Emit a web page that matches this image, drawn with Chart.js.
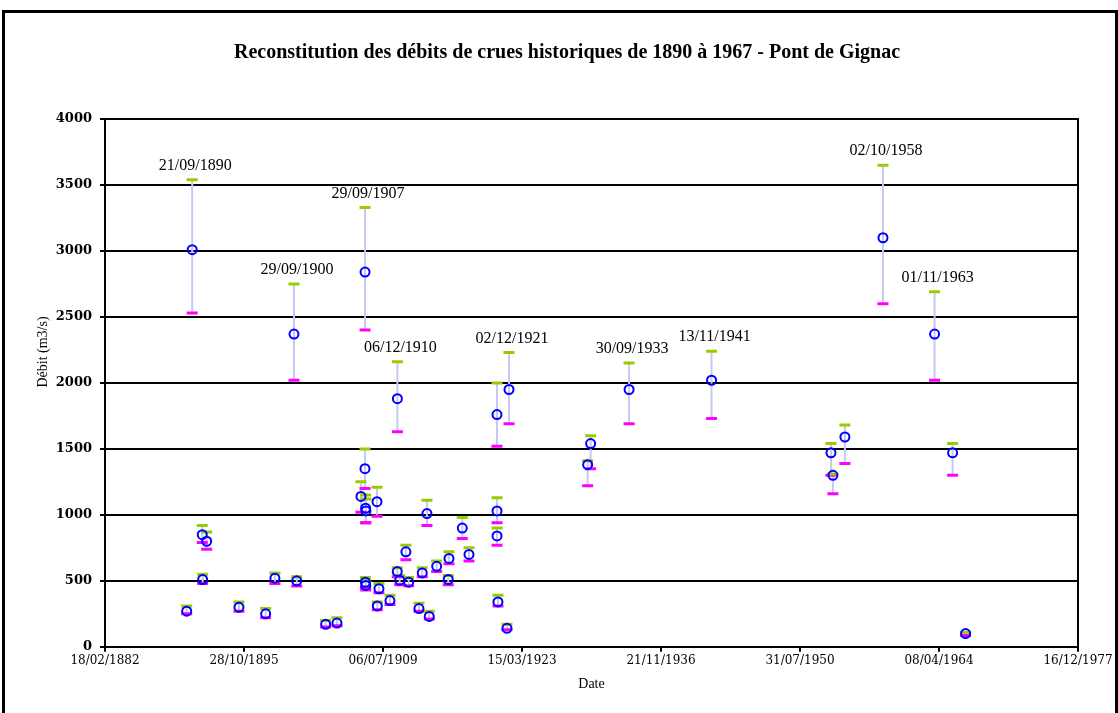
<!DOCTYPE html>
<html>
<head>
<meta charset="utf-8">
<title>Crues historiques - Pont de Gignac</title>
<script src="https://cdn.jsdelivr.net/npm/chart.js@4.4.1/dist/chart.umd.min.js"></script>
<style>
  html, body { margin: 0; padding: 0; background: #fff; }
</style>
</head>
<body>
<canvas id="crues" width="1118" height="713"></canvas>
<script>
// dates des crues (jj/mm/aaaa), debit estime, borne haute, borne basse (m3/s)
let dates = [
    '06/03/1890', '21/09/1890', '17/09/1891', '24/02/1892', '01/10/1891',
    '29/04/1895', '15/12/1897', '13/11/1898', '04/01/1901', '29/09/1900',
    '12/11/1903', '23/12/1904', '29/09/1907', '27/09/1907', '05/05/1907',
    '20/10/1907', '30/10/1907', '02/12/1908', '11/10/1907', '25/10/1907',
    '10/02/1909', '13/12/1908', '14/03/1910', '01/12/1910', '08/10/1911',
    '25/02/1911', '15/01/1912', '06/12/1910', '19/01/1913', '25/01/1914',
    '03/11/1913', '18/05/1913', '19/10/1914', '04/01/1916', '09/12/1915',
    '27/04/1917', '24/12/1917', '27/09/1920', '28/09/1920', '31/10/1920',
    '20/09/1921', '26/09/1920', '02/12/1921', '16/12/1929', '01/09/1929',
    '30/09/1933', '13/11/1941', '18/08/1953', '27/10/1953', '01/01/1955',
    '02/10/1958', '01/11/1963', '10/08/1965', '21/11/1966'
]

let debit = [
    270, 3010, 850, 800, 510,
    300, 250, 520, 500, 2370,
    170, 180, 2840, 1350, 1140,
    1050, 1030, 1100, 490, 465,
    440, 310, 350, 570, 720,
    505, 490, 1880, 290, 230,
    1010, 560, 610, 670, 510,
    900, 700, 1030, 840, 340,
    140, 1760, 1950, 1540, 1380,
    1950, 2020, 1470, 1300, 1590,
    3100, 2370, 1470, 100
]

let debitMax = [
    310, 3540, 920, 870, 550,
    340, 290, 560, 530, 2750,
    200, 220, 3330, 1500, 1250,
    1150, 1120, 1210, 525, 500,
    480, 340, 390, 600, 770,
    540, 525, 2160, 330, 270,
    1110, 600, 650, 720, 540,
    980, 750, 1130, 900, 390,
    170, 2000, 2230, 1600, 1410,
    2150, 2240, 1540, 1310, 1680,
    3650, 2690, 1540, 110
]

let debitMin = [
    250, 2530, 790, 740, 480,
    270, 220, 480, 460, 2020,
    150, 160, 2400, 1200, 1020,
    940, 940, 990, 450, 430,
    410, 280, 320, 530, 660,
    470, 462, 1630, 270, 210,
    920, 530, 570, 630, 470,
    820, 650, 940, 770, 310,
    130, 1520, 1690, 1350, 1220,
    1690, 1730, 1300, 1160, 1390,
    2600, 2020, 1300, 85
]

// crues annotees sur le graphique
let datesAnnotees = [
    '21/09/1890', '29/09/1900', '29/09/1907', '06/12/1910', '02/12/1921',
    '30/09/1933', '13/11/1941', '02/10/1958', '01/11/1963'
]

// axe des x : numero de jour depuis le 18/02/1882, graduation tous les 5000 jours
let origine = '18/02/1882'
let joursMax = 35000
let pasJours = 5000

function parseDate(s) {
    const [d, m, y] = s.split('/').map(Number)
    return Date.UTC(y, m - 1, d)
}

const DAY = 86400000
const t0 = parseDate(origine)
// le tableur compte un 29/02/1900 qui n'existe pas : un jour de plus apres cette date
const bug1900 = (parseDate('01/03/1900') - t0) / DAY

function toSerial(s) {
    const d = (parseDate(s) - t0) / DAY
    return d >= bug1900 ? d + 1 : d
}

function formatSerial(v) {
    const d = v > bug1900 ? v - 1 : v
    const dt = new Date(t0 + d * DAY)
    const dd = String(dt.getUTCDate()).padStart(2, '0')
    const mm = String(dt.getUTCMonth() + 1).padStart(2, '0')
    return dd + '/' + mm + '/' + dt.getUTCFullYear()
}

let centre = dates.map((s, i) => ({ x: toSerial(s), y: debit[i] }))
let hauts = dates.map((s, i) => ({ x: toSerial(s), y: debitMax[i] }))
let bas = dates.map((s, i) => ({ x: toSerial(s), y: debitMin[i] }))

// segments min -> max, coupes par un point vide
let segments = []
for (let i = 0; i < dates.length; i++) {
    const x = toSerial(dates[i])
    segments.push({ x: x, y: debitMin[i] })
    segments.push({ x: x, y: debitMax[i] })
    segments.push({ x: x, y: null })
}

const black = '#000000'

const framePlugin = {
    id: 'frame',
    beforeDraw(chart) {
        const c = chart.ctx
        c.save()
        c.fillStyle = '#ffffff'
        c.fillRect(0, 0, chart.width, chart.height)
        c.strokeStyle = black
        c.lineWidth = 3
        c.strokeRect(3.5, 11.5, chart.width - 5, chart.height + 20)
        c.restore()
    },
    afterDraw(chart) {
        // titre de l'axe des y
        const c = chart.ctx
        c.save()
        c.translate(43, 352)
        c.rotate(-Math.PI / 2)
        c.font = '14px "Liberation Serif"'
        c.fillStyle = black
        c.textAlign = 'center'
        c.textBaseline = 'middle'
        c.fillText('Débit (m3/s)', 0, 0)
        c.restore()
    }
}

const labelsPlugin = {
    id: 'dateLabels',
    afterDatasetsDraw(chart) {
        const meta = chart.getDatasetMeta(1)
        const c = chart.ctx
        c.save()
        c.font = '16px "Liberation Serif"'
        c.fillStyle = black
        c.textAlign = 'center'
        c.textBaseline = 'middle'
        for (let i = 0; i < dates.length; i++) {
            if (!datesAnnotees.includes(dates[i])) continue
            const el = meta.data[i]
            c.fillText(dates[i], el.x + 3, el.y - 14)
        }
        c.restore()
    }
}

const ctx = document.getElementById('crues').getContext('2d')
const chart = new Chart(ctx, {
    type: 'scatter',
    data: {
        datasets: [
            {
                label: 'Débit',
                data: centre,
                pointStyle: 'circle',
                pointRadius: 4.5,
                pointBorderWidth: 2,
                borderColor: '#0000ff',
                backgroundColor: 'rgba(0,0,0,0)',
                order: 1
            },
            {
                label: 'Débit max',
                data: hauts,
                pointStyle: 'line',
                pointRadius: 5.5,
                pointBorderWidth: 3,
                borderColor: '#99cc00',
                backgroundColor: '#99cc00',
                order: 2
            },
            {
                label: 'Débit min',
                data: bas,
                pointStyle: 'line',
                pointRadius: 5.5,
                pointBorderWidth: 3,
                borderColor: '#ff00ff',
                backgroundColor: '#ff00ff',
                order: 3
            },
            {
                label: 'Intervalle',
                data: segments,
                showLine: true,
                spanGaps: false,
                pointRadius: 0,
                borderWidth: 2,
                borderColor: '#c8c8f6',
                order: 4
            }
        ]
    },
    options: {
        responsive: false,
        animation: false,
        events: [],
        layout: {
            padding: { left: 16, right: 0, top: 0, bottom: 17 }
        },
        plugins: {
            legend: { display: false },
            tooltip: { enabled: false },
            title: {
                display: true,
                text: 'Reconstitution des débits de crues historiques de 1890 à 1967 - Pont de Gignac',
                color: black,
                font: { family: 'Liberation Serif', size: 20, weight: 'bold' },
                padding: { top: 41, bottom: 54 }
            }
        },
        scales: {
            x: {
                type: 'linear',
                min: 0,
                max: joursMax,
                ticks: {
                    stepSize: pasJours,
                    autoSkip: false,
                    maxRotation: 0,
                    padding: 2,
                    color: black,
                    font: { family: 'DejaVu Serif', size: 12 },
                    callback: v => formatSerial(v)
                },
                grid: { drawOnChartArea: false, color: black, lineWidth: 2, tickLength: 5 },
                border: { color: black, width: 2 },
                title: {
                    display: true,
                    text: 'Date',
                    color: black,
                    font: { family: 'Liberation Serif', size: 14 },
                    padding: { top: 6, bottom: 3 }
                }
            },
            y: {
                min: 0,
                max: 4000,
                ticks: {
                    stepSize: 500,
                    padding: 8,
                    color: black,
                    font: { family: 'DejaVu Serif', size: 13, weight: 'bold' },
                    callback: v => String(v)
                },
                grid: { color: black, lineWidth: 2, tickLength: 5 },
                border: { color: black, width: 2 },
                afterFit: s => { s.width = 89 }
            },
            y2: {
                position: 'right',
                min: 0,
                max: 4000,
                ticks: { display: false },
                grid: { drawOnChartArea: false, drawTicks: false },
                border: { color: black, width: 2 },
                afterFit: s => { s.width = 40 }
            }
        }
    },
    plugins: [framePlugin, labelsPlugin]
})
</script>
</body>
</html>
